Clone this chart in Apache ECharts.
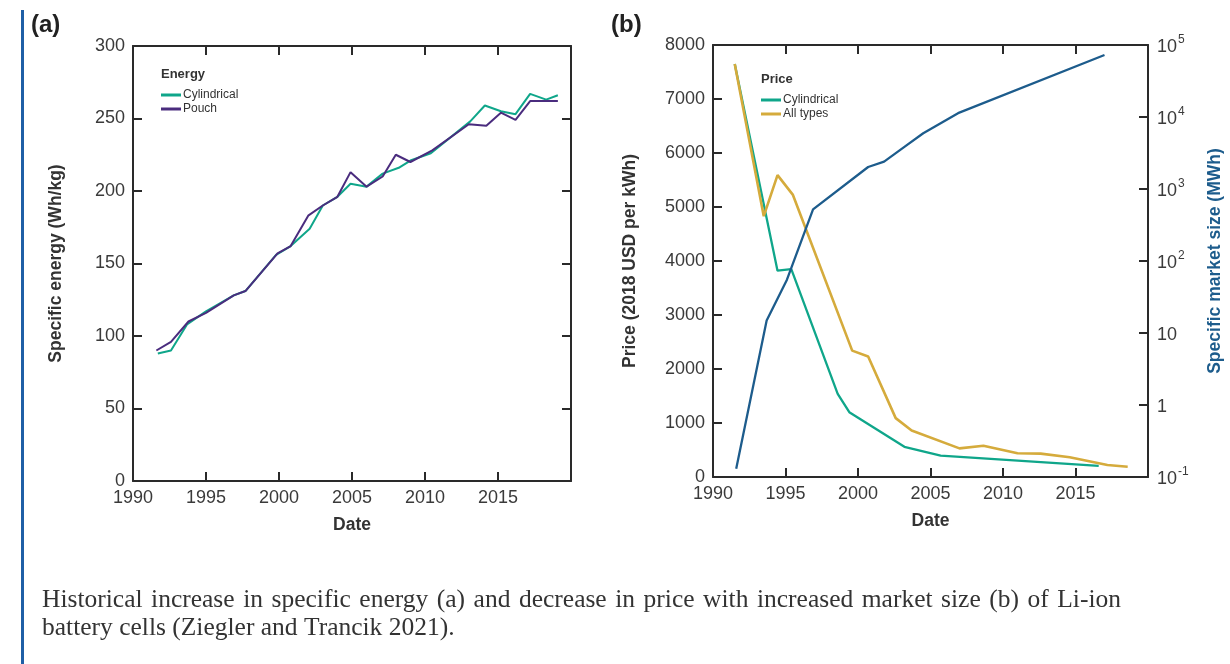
<!DOCTYPE html>
<html>
<head>
<meta charset="utf-8">
<script src="https://cdn.jsdelivr.net/npm/echarts@6/dist/echarts.min.js"></script>
<style>
  html, body { margin: 0; padding: 0; background: #fff; }
  #chart { width: 1230px; height: 664px; }
</style>
</head>
<body>
<div id="chart"></div>
<script>
// (a) specific energy, Wh/kg
const cylYears = [1991.7, 1992.6, 1993.7, 1995.0, 1996.9, 1997.7, 1999.8, 2000.8, 2002.1, 2003.0, 2004.0, 2004.9, 2006.0, 2007.1, 2008.2, 2009.0, 2010.4, 2013.1, 2014.1, 2015.2, 2016.2, 2017.2, 2018.3, 2019.1];
const cylEnergy = [88, 90, 108, 117, 128, 131, 156, 162, 174, 190, 196, 205, 203, 212, 216, 221, 226, 248, 259, 255, 253, 267, 263, 266];
const pouchYears = [1991.6, 1992.6, 1993.8, 1995.0, 1996.9, 1997.7, 1999.9, 2000.8, 2002.0, 2003.0, 2004.0, 2004.9, 2006.0, 2007.1, 2008.0, 2009.0, 2010.5, 2013.0, 2014.2, 2015.2, 2016.2, 2017.2, 2019.1];
const pouchEnergy = [90, 96, 110, 116, 128, 131, 157, 162, 183, 190, 196, 213, 203, 210, 225, 220, 228, 246, 245, 254, 249, 262, 262];

// (b) price, 2018 USD per kWh, and market size, MWh
const cylPriceYears = [1991.5, 1994.45, 1995.4, 1998.6, 1999.4, 2003.2, 2005.7, 2016.6];
const cylPrice = [7650, 3820, 3850, 1540, 1200, 560, 395, 205];
const allPriceYears = [1991.5, 1993.5, 1994.45, 1995.5, 1999.6, 2000.7, 2002.6, 2003.7, 2007.0, 2008.65, 2011.0, 2012.6, 2014.6, 2017.2, 2018.6];
const allPrice = [7650, 4830, 5590, 5230, 2340, 2230, 1090, 860, 530, 580, 440, 433, 365, 222, 191];
const marketYears = [1991.6, 1993.7, 1995.1, 1996.9, 2000.7, 2001.8, 2003.2, 2004.5, 2006.9, 2017.0];
const marketSize = [0.13, 14.9, 55, 520, 2020, 2400, 3850, 5950, 11300, 72600];

const captionLines = [
    'Historical increase in specific energy (a) and decrease in price with increased market size (b) of Li-ion',
    'battery cells (Ziegler and Trancik 2021).'
];

const pairs = (xs, ys) => xs.map((x, i) => [x, ys[i]]);

const FONT = "'Liberation Sans', Arial, sans-serif";
const SERIF = "'Liberation Serif', 'DejaVu Serif', serif";
const AXIS_COLOR = '#2a2a2a';
const LABEL_COLOR = '#3a3a3a';
const GREEN = '#0fa68a';
const PURPLE = '#4a2c7e';
const GOLD = '#d5ab3c';
const BLUE = '#1d5c8c';

const nameStyle = { fontSize: 17.5, fontWeight: 'bold', color: '#333', fontFamily: FONT };
const lineAxis = { show: true, onZero: false, lineStyle: { color: AXIS_COLOR, width: 2 } };
const inTick = { show: true, inside: true, length: 9, lineStyle: { color: AXIS_COLOR, width: 2 } };

function xAxis(grid, pos, withLabels) {
    return {
        gridIndex: grid, type: 'value', position: pos,
        min: 1990, max: 2020, interval: 5,
        axisLine: lineAxis,
        axisTick: inTick,
        axisLabel: {
            show: withLabels, margin: 8, fontSize: 18, color: LABEL_COLOR, fontFamily: FONT,
            formatter: v => (v === 2020 ? '' : String(v))
        },
        splitLine: { show: false },
        name: withLabels ? 'Date' : '',
        nameLocation: 'middle', nameGap: 35,
        nameTextStyle: nameStyle
    };
}

const supNum = v => {
    const p = Math.round(Math.log10(v));
    if (p === 0) return '{b|1}';
    if (p === 1) return '{b|10}';
    return '{b|10}{s|' + (p < 0 ? '-' : '') + Math.abs(p) + '}';
};

// caption: first line set full measure (justified), last line left aligned
function captionGraphic() {
    const ctx = document.createElement('canvas').getContext('2d');
    const size = 25.5;
    ctx.font = size + 'px ' + SERIF;
    const left = 42, right = 1121, lineTops = [587, 615];
    const out = [];
    captionLines.forEach((line, li) => {
        const words = line.split(' ');
        const widths = words.map(w => ctx.measureText(w).width);
        const total = widths.reduce((a, b) => a + b, 0);
        const last = li === captionLines.length - 1;
        const gap = last ? ctx.measureText(' ').width : (right - left - total) / (words.length - 1);
        let x = left;
        words.forEach((w, i) => {
            out.push({
                type: 'text', x: x, y: lineTops[li],
                style: { text: w, font: size + 'px ' + SERIF, fill: '#333' }
            });
            x += widths[i] + gap;
        });
    });
    return out;
}

const option = {
    animation: false,
    backgroundColor: '#fff',
    textStyle: { fontFamily: FONT },
    grid: [
        { left: 133, top: 46, width: 438, height: 435 },
        { left: 713, top: 45, width: 435, height: 432 }
    ],
    xAxis: [
        xAxis(0, 'bottom', true),
        xAxis(0, 'top', false),
        xAxis(1, 'bottom', true),
        xAxis(1, 'top', false)
    ],
    yAxis: [
        {
            gridIndex: 0, type: 'value', position: 'left', min: 0, max: 300, interval: 50,
            axisLine: lineAxis, axisTick: inTick,
            axisLabel: { margin: 8, fontSize: 18, color: LABEL_COLOR, fontFamily: FONT },
            splitLine: { show: false },
            name: 'Specific energy (Wh/kg)', nameLocation: 'middle', nameGap: 68,
            nameTextStyle: nameStyle
        },
        {
            gridIndex: 0, type: 'value', position: 'right', min: 0, max: 300, interval: 50,
            axisLine: lineAxis, axisTick: inTick,
            axisLabel: { show: false },
            splitLine: { show: false }
        },
        {
            gridIndex: 1, type: 'value', position: 'left', min: 0, max: 8000, interval: 1000,
            axisLine: lineAxis, axisTick: inTick,
            axisLabel: { margin: 8, fontSize: 18, color: LABEL_COLOR, fontFamily: FONT, formatter: v => String(v) },
            splitLine: { show: false },
            name: 'Price (2018 USD per kWh)', nameLocation: 'middle', nameGap: 74,
            nameTextStyle: nameStyle
        },
        {
            gridIndex: 1, type: 'log', logBase: 10, position: 'right', min: 0.1, max: 100000, interval: 1,
            axisLine: lineAxis, axisTick: inTick,
            axisLabel: {
                margin: 9, color: LABEL_COLOR, fontFamily: FONT,
                formatter: supNum,
                rich: {
                    b: { fontSize: 18, color: LABEL_COLOR, fontFamily: FONT, lineHeight: 22, verticalAlign: 'bottom' },
                    s: { fontSize: 12, color: LABEL_COLOR, fontFamily: FONT, lineHeight: 22, verticalAlign: 'top', padding: [0, 0, 0, 1] }
                }
            },
            splitLine: { show: false },
            name: 'Specific market size (MWh)', nameLocation: 'middle', nameGap: 58, nameRotate: 90,
            nameTextStyle: Object.assign({}, nameStyle, { color: BLUE })
        }
    ],
    legend: [
        {
            left: 156, top: 84, orient: 'vertical', itemGap: 2, itemWidth: 20, itemHeight: 3, icon: 'rect',
            textStyle: { fontSize: 12, color: '#333', fontFamily: FONT, padding: [0, 0, 0, -3] },
            data: ['Cylindrical', 'Pouch'], selectedMode: false
        },
        {
            left: 756, top: 89, orient: 'vertical', itemGap: 2, itemWidth: 20, itemHeight: 3, icon: 'rect',
            textStyle: { fontSize: 12, color: '#333', fontFamily: FONT, padding: [0, 0, 0, -3] },
            data: ['Cylindrical', 'All types'], selectedMode: false
        }
    ],
    title: [
        { text: '(a)', left: 26, top: 8, textStyle: { fontSize: 24, fontWeight: 'bold', color: '#222', fontFamily: FONT } },
        { text: '(b)', left: 606, top: 8, textStyle: { fontSize: 24, fontWeight: 'bold', color: '#222', fontFamily: FONT } },
        { text: 'Energy', left: 156, top: 63, textStyle: { fontSize: 13, fontWeight: 'bold', color: '#333', fontFamily: FONT } },
        { text: 'Price', left: 756, top: 68, textStyle: { fontSize: 13, fontWeight: 'bold', color: '#333', fontFamily: FONT } }
    ],
    graphic: [
        { type: 'rect', shape: { x: 21, y: 10, width: 3, height: 660 }, style: { fill: '#1f5fa6' } }
    ].concat(captionGraphic()),
    series: [
        { name: 'Cylindrical', type: 'line', xAxisIndex: 0, yAxisIndex: 0, showSymbol: false, data: pairs(cylYears, cylEnergy), lineStyle: { color: GREEN, width: 2 }, itemStyle: { color: GREEN } },
        { name: 'Pouch', type: 'line', xAxisIndex: 0, yAxisIndex: 0, showSymbol: false, data: pairs(pouchYears, pouchEnergy), lineStyle: { color: PURPLE, width: 2 }, itemStyle: { color: PURPLE } },
        { name: 'Cylindrical', type: 'line', xAxisIndex: 2, yAxisIndex: 2, showSymbol: false, data: pairs(cylPriceYears, cylPrice), lineStyle: { color: GREEN, width: 2.3 }, itemStyle: { color: GREEN } },
        { name: 'All types', type: 'line', xAxisIndex: 2, yAxisIndex: 2, showSymbol: false, data: pairs(allPriceYears, allPrice), lineStyle: { color: GOLD, width: 2.6 }, itemStyle: { color: GOLD } },
        { name: 'Market size', type: 'line', xAxisIndex: 2, yAxisIndex: 3, showSymbol: false, data: pairs(marketYears, marketSize), lineStyle: { color: BLUE, width: 2.3 }, itemStyle: { color: BLUE } }
    ]
};

const chart = echarts.init(document.getElementById('chart'));
chart.setOption(option);
</script>
</body>
</html>
